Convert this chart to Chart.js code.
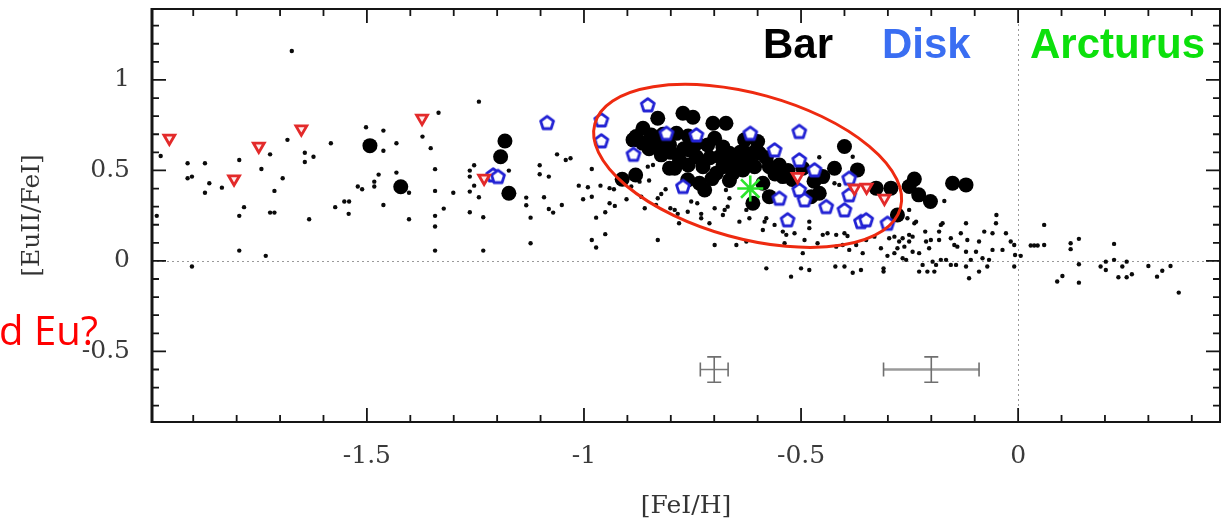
<!DOCTYPE html>
<html>
<head>
<meta charset="utf-8">
<script src="https://cdn.jsdelivr.net/npm/chart.js@4.4.1/dist/chart.umd.min.js"></script>
<style>
  html, body { margin: 0; padding: 0; background: #ffffff; }
  #wrap { width: 1226px; height: 525px; position: relative; }
  canvas { display: block; }
</style>
</head>
<body>
<div id="wrap"><canvas id="c" width="1226" height="525"></canvas></div>
<script>
// ---------------- data ([FeI/H], [EuII/FeI]) ----------------
const xTickValues = [-1.5, -1, -0.5, 0];
const xTickLabels = ['-1.5', '-1', '-0.5', '0'];
const yTickValues = [-0.5, 0, 0.5, 1];
const yTickLabels = ['-0.5', '0', '0.5', '1'];

const fieldStars = [
  [-1.673,1.160],[-1.975,0.580],[-1.913,0.540],[-1.913,0.457],[-1.903,0.466],[-1.873,0.540],[-1.863,0.429],
  [-1.873,0.377],[-1.834,0.405],[-1.794,0.558],[-1.783,0.297],[-1.794,0.249],[-1.794,0.057],[-1.743,0.508],
  [-1.723,0.589],[-1.713,0.387],[-1.723,0.267],[-1.713,0.267],[-1.733,0.028],[-1.694,0.457],[-1.683,0.669],
  [-1.643,0.598],[-1.643,0.547],[-1.623,0.576],[-1.633,0.230],[-1.583,0.650],[-1.573,0.297],[-1.552,0.328],
  [-1.541,0.328],[-1.542,0.260],[-1.521,0.411],[-1.511,0.396],[-1.502,0.739],[-1.483,0.438],[-1.483,0.411],
  [-1.473,0.477],[-1.462,0.720],[-1.462,0.609],[-1.462,0.309],[-1.432,0.650],[-1.432,0.488],[-1.403,0.377],
  [-1.403,0.230],[-1.372,0.687],[-1.353,0.623],[-1.343,0.507],[-1.343,0.387],[-1.343,0.249],[-1.343,0.190],
  [-1.343,0.057],[-1.335,0.819],[-1.984,0.249],[-1.903,-0.031],
  [-1.242,0.880],[-1.301,0.377],[-1.323,0.289],[-1.263,0.499],[-1.263,0.466],[-1.253,0.529],[-1.263,0.383],
  [-1.263,0.269],[-1.242,0.352],[-1.232,0.241],[-1.232,0.057],[-1.253,0.416],[-1.173,0.499],[-1.133,0.350],
  [-1.133,0.308],[-1.123,0.239],[-1.123,0.098],[-1.102,0.529],[-1.102,0.479],[-1.081,0.466],[-1.092,0.352],
  [-1.081,0.287],[-1.071,0.267],[-1.062,0.589],[-1.042,0.558],[-1.031,0.567],[-1.051,0.309],[-1.012,0.416],
  [-0.991,0.407],[-1.002,0.341],[-0.982,0.355],[-0.982,0.508],[-0.962,0.416],[-0.972,0.239],[-0.951,0.269],
  [-0.951,0.148],[-0.982,0.116],[-0.972,0.074],[-0.941,0.402],[-0.941,0.319],
  [-0.931,0.396],[-0.902,0.341],[-0.929,0.304],[-0.891,0.411],[-0.872,0.438],[-0.850,0.444],[-0.853,0.521],
  [-0.841,0.530],[-0.868,0.355],[-0.860,0.291],[-0.830,0.346],[-0.822,0.370],[-0.834,0.309],[-0.812,0.396],
  [-0.801,0.291],[-0.791,0.282],[-0.784,0.260],[-0.781,0.208],[-0.761,0.272],[-0.739,0.319],[-0.730,0.260],
  [-0.711,0.208],[-0.699,0.291],[-0.680,0.254],[-0.676,0.282],[-0.669,0.300],[-0.665,0.346],[-0.673,0.392],
  [-0.642,0.217],[-0.626,0.282],[-0.649,0.088],[-0.699,0.088],[-0.830,0.116],[-0.626,0.107],[-0.753,0.328],
  [-0.730,0.236],[-0.619,0.236],[-0.584,0.217],[-0.588,0.171],[-0.534,0.144],[-0.515,0.153],
  [-0.580,0.236],[-0.561,0.199],[-0.542,0.162],[-0.538,0.098],[-0.481,0.217],[-0.481,0.181],[-0.492,0.116],
  [-0.496,0.043],[-0.462,0.098],[-0.450,0.144],[-0.439,0.153],[-0.419,0.144],[-0.400,0.153],[-0.393,0.138],
  [-0.419,0.079],[-0.404,0.088],[-0.389,0.061],[-0.373,0.088],[-0.358,0.043],[-0.350,0.116],[-0.331,0.134],
  [-0.316,0.070],[-0.297,0.125],[-0.266,0.125],[-0.251,0.144],[-0.243,0.134],[-0.262,0.079],[-0.243,0.051],
  [-0.362,-0.050],[-0.400,-0.031],[-0.481,-0.050],[-0.500,-0.041],[-0.523,-0.087],[-0.580,-0.041],
  [-0.458,0.573],[-0.381,0.576],[-0.423,0.429],[-0.412,0.420],[-0.274,0.282],[-0.251,0.282],[-0.255,0.236],
  [-0.235,0.217],
  [-0.170,0.331],[-0.239,0.208],[-0.214,0.162],[-0.212,0.107],[-0.205,0.070],[-0.201,0.116],[-0.182,0.162],
  [-0.182,0.116],[-0.174,0.208],[-0.155,0.125],[-0.147,0.088],[-0.140,0.079],[-0.132,0.153],[-0.117,0.116],
  [-0.120,0.051],[-0.097,0.051],[-0.090,0.107],[-0.078,0.162],[-0.059,0.153],[-0.051,0.208],[-0.050,0.254],
  [-0.028,0.153],[-0.017,0.107],[-0.009,0.088],[-0.007,0.033],[0.006,0.028],[-0.009,-0.031],[-0.036,0.061],
  [-0.059,0.061],[-0.067,0.006],[-0.082,0.015],[-0.071,-0.031],[-0.090,-0.059],[-0.113,-0.096],[-0.120,-0.031],
  [-0.143,-0.022],[-0.155,-0.022],[-0.166,0.006],[-0.178,0.006],[-0.189,-0.022],[-0.197,-0.004],[-0.193,-0.059],
  [-0.209,-0.059],[-0.228,-0.059],[-0.220,-0.022],[-0.228,0.043],[-0.251,0.107],[-0.274,0.107],[-0.278,0.070],
  [-0.285,0.134],[-0.285,0.043],[-0.266,0.015],[-0.258,0.006],[-0.301,0.028],[-0.310,-0.041],[-0.310,-0.059],
  [-0.178,0.199],[-0.120,0.208],[-0.109,0.006],[-0.421,-0.031],[-0.381,-0.065],
  [0.029,0.085],[0.037,0.085],[0.045,0.085],[0.060,0.199],[0.060,0.088],[0.121,0.098],[0.121,0.065],
  [0.140,0.122],[0.140,-0.018],[0.102,-0.083],[0.090,-0.114],[0.140,-0.120],[0.190,-0.031],[0.202,-0.004],
  [0.202,-0.050],[0.221,0.094],[0.221,0.006],[0.231,-0.090],[0.240,-0.031],[0.250,-0.004],[0.250,-0.090],
  [0.262,-0.074],[0.300,-0.028],[0.320,-0.087],[0.332,-0.054],[0.351,-0.028],[0.370,-0.175]
];

const barStars = [
  [-1.493,0.637],[-1.422,0.410],[-1.182,0.663],[-1.192,0.576],[-1.173,0.374],[-0.912,0.451],[-0.881,0.475],
  [-0.880,0.687],[-0.864,0.733],[-0.845,0.696],[-0.887,0.669],[-0.830,0.788],[-0.830,0.650],[-0.822,0.586],
  [-0.803,0.641],[-0.787,0.705],[-0.772,0.816],[-0.749,0.794],[-0.780,0.558],[-0.791,0.512],[-0.761,0.448],
  [-0.757,0.613],[-0.741,0.576],[-0.726,0.521],[-0.722,0.392],[-0.715,0.641],[-0.703,0.761],[-0.673,0.761],
  [-0.699,0.678],[-0.688,0.576],[-0.695,0.485],[-0.665,0.595],[-0.649,0.549],[-0.657,0.485],[-0.630,0.669],
  [-0.626,0.595],[-0.603,0.613],[-0.611,0.319],[-0.600,0.660],[-0.596,0.595],[-0.607,0.521],[-0.573,0.521],
  [-0.550,0.530],[-0.542,0.466],[-0.573,0.355],[-0.588,0.429],[-0.496,0.512],[-0.477,0.355],[-0.458,0.374],
  [-0.450,0.466],[-0.423,0.512],[-0.400,0.632],[-0.370,0.503],[-0.327,0.402],[-0.293,0.402],[-0.278,0.254],
  [-0.239,0.452],[-0.251,0.411],[-0.229,0.365],[-0.202,0.328],[-0.151,0.429],[-0.120,0.420],[-0.680,0.521],
  [-0.634,0.503],[-0.734,0.429],[-0.803,0.512],[-0.818,0.700],[-0.760,0.690],
  [-0.850,0.620],[-0.800,0.600],[-0.760,0.530],[-0.740,0.650],[-0.710,0.570],[-0.680,0.630],[-0.660,0.550],
  [-0.640,0.600],[-0.620,0.550],[-0.580,0.570],[-0.560,0.480],[-0.530,0.500],[-0.665,0.445],[-0.705,0.455],
  [-0.770,0.620],[-0.865,0.650],[-0.520,0.450],[-0.470,0.440]
];

const diskStars = [
  [-1.085,0.764],[-0.960,0.779],[-0.960,0.663],[-1.209,0.475],[-1.198,0.466],[-0.853,0.862],[-0.886,0.589],
  [-0.810,0.705],[-0.741,0.696],[-0.772,0.411],[-0.617,0.705],[-0.504,0.715],[-0.561,0.613],[-0.504,0.558],
  [-0.469,0.503],[-0.550,0.346],[-0.504,0.392],[-0.531,0.227],[-0.442,0.300],[-0.400,0.282],[-0.362,0.217],
  [-0.350,0.227],[-0.301,0.208],[-0.389,0.457],[-0.389,0.365],[-0.492,0.337]
];

const upperLimits = [
  [-1.955,0.678],[-1.806,0.453],[-1.749,0.634],[-1.651,0.729],[-1.373,0.788],[-1.230,0.457],
  [-0.508,0.466],[-0.377,0.402],[-0.349,0.407],[-0.308,0.346]
];

const arcturus = [[-0.617, 0.400]];

// typical error bars: [FeI/H], [EuII/FeI], half-width in x, half-height in y
const errorBars = [[-0.70, -0.60, 0.032, 0.07], [-0.20, -0.60, 0.11, 0.07]];

// highlighted region (red ellipse): centre in data units
const ellipseCentre = [-0.623, 0.525];

// ---------------- styles ----------------
const SERIF = '"DejaVu Serif", "Liberation Serif", serif';
const toPts = arr => arr.map(p => ({ x: p[0], y: p[1] }));

function makePentagon(r, lw, color) {
  const s = Math.ceil(2 * (r + lw)) + 2;
  const c = document.createElement('canvas');
  c.width = s; c.height = s;
  const g = c.getContext('2d');
  g.beginPath();
  for (let i = 0; i < 5; i++) {
    const a = -Math.PI / 2 + i * 2 * Math.PI / 5;
    const px = s / 2 + r * Math.cos(a), py = s / 2 + r * Math.sin(a) + 0.5;
    if (i === 0) g.moveTo(px, py); else g.lineTo(px, py);
  }
  g.closePath();
  g.fillStyle = '#ffffff';
  g.fill();
  g.lineWidth = lw;
  g.lineJoin = 'round';
  g.strokeStyle = color;
  g.stroke();
  return c;
}
const pentagonImg = makePentagon(6.8, 2.8, '#2222d4');

const decorPlugin = {
  id: 'decor',
  beforeDatasetsDraw(chart) {
    const { ctx, chartArea: a, scales: { x, y } } = chart;
    ctx.save();
    ctx.strokeStyle = '#9a9a9a';
    ctx.lineWidth = 1;
    ctx.setLineDash([2, 3]);
    const y0 = Math.round(y.getPixelForValue(0)) + 0.5;
    const x0 = Math.round(x.getPixelForValue(0)) + 0.5;
    ctx.beginPath(); ctx.moveTo(a.left, y0); ctx.lineTo(a.right, y0); ctx.stroke();
    ctx.beginPath(); ctx.moveTo(x0, a.top); ctx.lineTo(x0, a.bottom); ctx.stroke();
    ctx.setLineDash([]);
    // error bars
    errorBars.forEach(([ex, ey, dx, dy], i) => {
      const cx = x.getPixelForValue(ex), cy = y.getPixelForValue(ey);
      const xl = x.getPixelForValue(ex - dx), xr = x.getPixelForValue(ex + dx);
      const yt = y.getPixelForValue(ey + dy), yb = y.getPixelForValue(ey - dy);
      ctx.strokeStyle = i === 0 ? '#7a7a7a' : '#9a9a9a';
      ctx.lineWidth = i === 0 ? 1.5 : 2.5;
      ctx.beginPath(); ctx.moveTo(xl, cy); ctx.lineTo(xr, cy); ctx.stroke();
      ctx.lineWidth = 1.6;
      ctx.strokeStyle = '#6f6f6f';
      ctx.beginPath();
      ctx.moveTo(xl, cy - 7); ctx.lineTo(xl, cy + 7);
      ctx.moveTo(xr, cy - 7); ctx.lineTo(xr, cy + 7);
      ctx.moveTo(cx, yt); ctx.lineTo(cx, yb);
      ctx.moveTo(cx - 7, yt); ctx.lineTo(cx + 7, yt);
      ctx.moveTo(cx - 7, yb); ctx.lineTo(cx + 7, yb);
      ctx.stroke();
    });
    ctx.restore();
  },
  afterDatasetsDraw(chart) {
    const { ctx, scales: { x, y } } = chart;
    ctx.save();
    ctx.strokeStyle = '#ee2a10';
    ctx.lineWidth = 3;
    ctx.beginPath();
    ctx.ellipse(x.getPixelForValue(ellipseCentre[0]), y.getPixelForValue(ellipseCentre[1]), 158.5, 72.4, 0.269, 0, Math.PI * 2);
    ctx.stroke();
    ctx.restore();
  },
  afterDraw(chart) {
    const { ctx, chartArea: a, scales: { x, y } } = chart;
    ctx.save();
    ctx.strokeStyle = '#151515';
    // frame
    ctx.lineWidth = 2;
    ctx.strokeRect(a.left, a.top, a.right - a.left, a.bottom - a.top);
    ctx.lineWidth = 3;
    ctx.beginPath(); ctx.moveTo(a.left, a.top - 1); ctx.lineTo(a.left, a.bottom + 1); ctx.stroke();
    // ticks (inward)
    ctx.lineWidth = 1.8;
    ctx.beginPath();
    for (let k = Math.ceil(x.min * 10 - 1e-9); k <= Math.floor(x.max * 10 + 1e-9); k++) {
      const px = x.getPixelForValue(k / 10);
      const len = (k % 5 === 0) ? 14 : 7;
      ctx.moveTo(px, a.bottom); ctx.lineTo(px, a.bottom - len);
      ctx.moveTo(px, a.top); ctx.lineTo(px, a.top + len);
    }
    for (let k = Math.ceil(y.min * 10 - 1e-9); k <= Math.floor(y.max * 10 + 1e-9); k++) {
      const py = y.getPixelForValue(k / 10);
      const len = (k % 5 === 0) ? 14 : 7;
      ctx.moveTo(a.left, py); ctx.lineTo(a.left + len, py);
      ctx.moveTo(a.right, py); ctx.lineTo(a.right - len, py);
    }
    ctx.stroke();
    // annotations
    ctx.textBaseline = 'alphabetic';
    ctx.textAlign = 'left';
    ctx.font = 'bold 42px "Liberation Sans", Arial, sans-serif';
    ctx.fillStyle = '#000000'; ctx.fillText('Bar', 763, 58);
    ctx.fillStyle = '#3a6ef2'; ctx.fillText('Disk', 882, 58);
    ctx.fillStyle = '#0ce00c'; ctx.fillText('Arcturus', 1030, 58);
    ctx.font = '40px "Open Sans", "Noto Sans", sans-serif';
    ctx.fillStyle = '#ff0000';
    ctx.textAlign = 'right';
    ctx.fillText('d Eu?', 98, 345);
    ctx.restore();
  }
};

new Chart(document.getElementById('c'), {
  type: 'scatter',
  data: {
    datasets: [
      { label: 'Arcturus', data: toPts(arcturus), order: 0, pointStyle: 'star', pointRadius: 13,
        borderColor: '#2be42b', backgroundColor: '#2be42b', borderWidth: 2.6 },
      { label: 'Upper limits', data: toPts(upperLimits), order: 1, pointStyle: 'triangle', rotation: 180,
        pointRadius: 6.3, borderColor: '#e32a2a', backgroundColor: '#ffecec', borderWidth: 2.8 },
      { label: 'Disk', data: toPts(diskStars), order: 2, pointStyle: pentagonImg, pointRadius: 7 },
      { label: 'Bar', data: toPts(barStars), order: 3, pointStyle: 'circle', pointRadius: 7.5,
        backgroundColor: '#000000', borderColor: '#000000', borderWidth: 0 },
      { label: 'Field', data: toPts(fieldStars), order: 4, pointStyle: 'circle', pointRadius: 2.2,
        backgroundColor: '#0a0a0a', borderColor: '#0a0a0a', borderWidth: 0 }
    ]
  },
  options: {
    responsive: false,
    animation: false,
    events: [],
    layout: { autoPadding: false, padding: { top: 9, right: 6, left: 0, bottom: 0 } },
    plugins: { legend: { display: false }, tooltip: { enabled: false } },
    scales: {
      x: {
        type: 'linear', position: 'bottom', min: -1.995, max: 0.465,
        grid: { display: false, drawTicks: false }, border: { display: false },
        afterBuildTicks: s => { s.ticks = xTickValues.map(v => ({ value: v })); },
        afterFit: s => { s.height = 103; s.paddingLeft = 0; s.paddingRight = 0; s.paddingTop = 0; s.paddingBottom = 0; },
        ticks: {
          autoSkip: false, maxRotation: 0, padding: 19, color: '#3a3a3a',
          font: { family: SERIF, size: 25 },
          callback: v => { const i = xTickValues.findIndex(t => Math.abs(t - v) < 1e-6); return i >= 0 ? xTickLabels[i] : ''; }
        },
        title: { display: true, text: '[FeI/H]', color: '#333333', font: { family: SERIF, size: 25 }, padding: { top: 0, bottom: 4 } }
      },
      y: {
        type: 'linear', position: 'left', min: -0.89, max: 1.392,
        grid: { display: false, drawTicks: false }, border: { display: false },
        afterBuildTicks: s => { s.ticks = yTickValues.map(v => ({ value: v })); },
        afterFit: s => { s.width = 152; s.paddingLeft = 0; s.paddingRight = 0; s.paddingTop = 0; s.paddingBottom = 0; },
        ticks: {
          autoSkip: false, padding: 22, color: '#3a3a3a',
          font: { family: SERIF, size: 25 },
          callback: v => { const i = yTickValues.findIndex(t => Math.abs(t - v) < 1e-6); return i >= 0 ? yTickLabels[i] : ''; }
        },
        title: { display: true, text: '[EuII/FeI]', color: '#333333', font: { family: SERIF, size: 25 }, padding: { top: 17, bottom: 0 } }
      }
    }
  },
  plugins: [decorPlugin]
});
</script>
</body>
</html>
